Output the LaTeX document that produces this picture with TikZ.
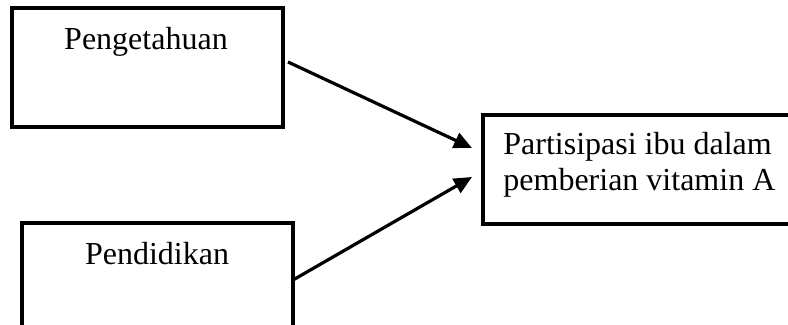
\documentclass[tikz,border=0pt]{standalone}
\usepackage{fontspec}
\setmainfont{Liberation Serif}
\usetikzlibrary{arrows.meta}
\begin{document}
\begin{tikzpicture}[x=0.5pt,y=-0.5pt,
  boxline/.style={draw=black,line width=1.6pt,fill=none},
  lbl/.style={font=\fontsize{16}{18}\selectfont,inner sep=0pt},
  conn/.style={line width=1.6pt,-{Triangle[length=9pt,width=8pt]}}]
\useasboundingbox (0,0) rectangle (788,325);
\clip (0,0) rectangle (788,325);
% boxes
\node[boxline,minimum width=135.5pt,minimum height=59.5pt,inner sep=0pt] (pk) at (147.5,67.5) {};
\node[boxline,minimum width=135.5pt,minimum height=59.5pt,inner sep=0pt] (pd) at (157.5,282.5) {};
\node[boxline,minimum width=160pt,minimum height=54.5pt,inner sep=0pt] (pa) at (643,169.5) {};
% texts
\node[lbl,anchor=base] (tpk) at (146,50) {Pengetahuan};
\node[lbl,anchor=base] (tpd) at (157,265) {Pendidikan};
\node[lbl,anchor=base west] (tpa1) at (503,155) {Partisipasi ibu dalam};
\node[lbl,anchor=base west] (tpa2) at (503,191) {pemberian vitamin A};
% connectors
\coordinate (s1) at (288,62);
\coordinate (e1) at (472,148);
\coordinate (s2) at (293,280);
\coordinate (e2) at (472,177);
\draw[conn] (s1) -- (e1);
\draw[conn] (s2) -- (e2);
\end{tikzpicture}
\end{document}
